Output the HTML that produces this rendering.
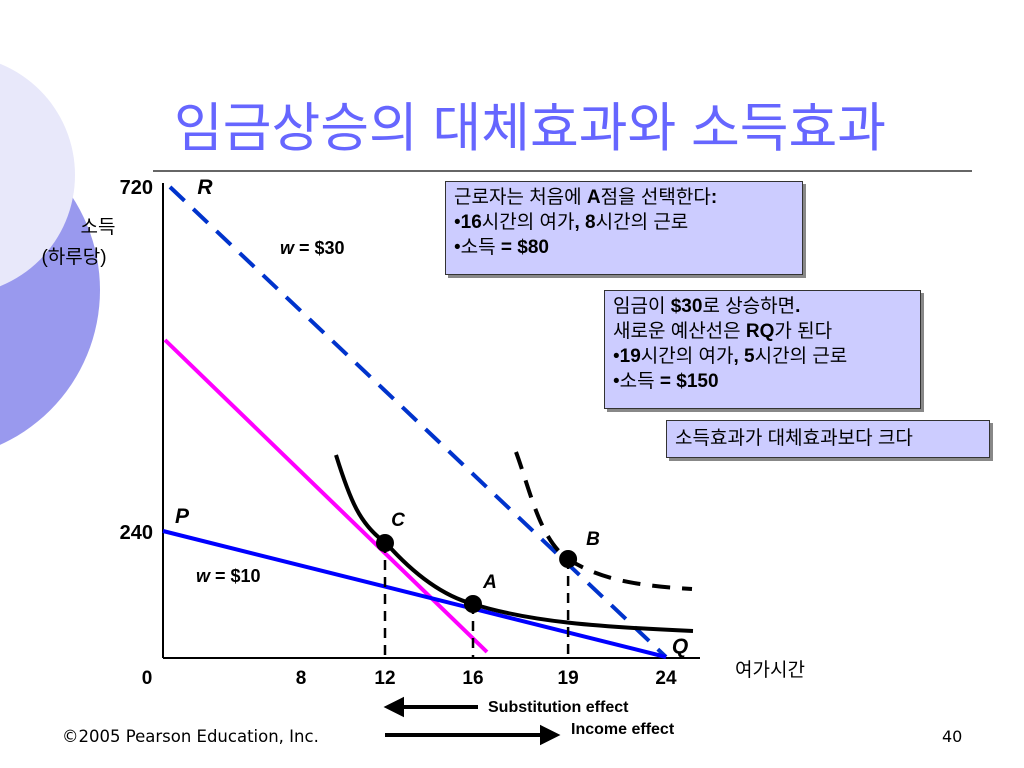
<!DOCTYPE html>
<html><head><meta charset="utf-8">
<style>
body{margin:0;background:#fff;width:1024px;height:768px;overflow:hidden;font-family:"Liberation Sans","Noto Sans CJK KR",sans-serif}
svg{position:absolute;left:0;top:0}
.box{position:absolute;background:#ccccff;border:1.5px solid #333;font-size:19px;line-height:25px;padding:3px 8px;color:#000;box-shadow:3px 3px 0 #888}
</style></head><body>
<svg width="1024" height="768">
<circle cx="-70" cy="290" r="170" fill="#9999ee"/>
<circle cx="-45" cy="175" r="120" fill="#e8e8fa"/>
<text x="530" y="146" font-size="53" fill="#6666ff" text-anchor="middle" font-family="Liberation Sans,Noto Sans CJK KR,sans-serif">임금상승의 대체효과와 소득효과</text>
<line x1="153" y1="171" x2="972" y2="171" stroke="#333" stroke-width="1.5"/>
<g id="plot"></g>
</svg>
<div class="box" style="left:445px;top:181px;width:340px;height:86px">근로자는 처음에 <b>A</b>점을 선택한다<b>:</b><br>•<b>16</b>시간의 여가<b>, 8</b>시간의 근로<br>•소득 <b>= $80</b></div>
<div class="box" style="left:604px;top:290px;width:299px;height:111px">임금이 <b>$30</b>로 상승하면<b>.</b><br>새로운 예산선은 <b>RQ</b>가 된다<br>•<b>19</b>시간의 여가<b>, 5</b>시간의 근로<br>•소득 <b>= $150</b></div>
<div class="box" style="left:666px;top:420px;width:306px;height:30px;line-height:30px">소득효과가 대체효과보다 크다</div>
<script>
const hours=[0,8,12,16,19,24];
const incomeTicks=[0,240,720];
const pointNames=['C','A','B'];
const pointHours=[12,16,19];
const pointIncome=[140,80,150];
const NS='http://www.w3.org/2000/svg';
const g=document.getElementById('plot');
function xs(h){return h<=8?163+h*17.25:(h<=12?301+(h-8)*21:(h<=16?385+(h-12)*22:(h<=19?473+(h-16)*31.7:568+(h-19)*19.6)));}
function ys(v){return v<=240?658-v*0.529:531-(v-240)*0.719;}
function el(t,a,txt){const e=document.createElementNS(NS,t);for(const k in a)e.setAttribute(k,a[k]);if(txt!==undefined)e.textContent=txt;g.appendChild(e);return e;}
let e;
e=el('line',{x1:163,y1:183,x2:163,y2:658,stroke:'#000','stroke-width':2});


e=el('line',{x1:163,y1:658,x2:700,y2:658,stroke:'#000','stroke-width':2});


hours.forEach(h=>{e=el('text',{x:h===0?147:xs(h),y:684,'font-size':19,'font-weight':'bold','text-anchor':'middle'},h);

});
incomeTicks.slice(1).forEach(v=>{e=el('text',{x:153,y:ys(v)+8,'font-size':20,'font-weight':'bold','text-anchor':'end'},v);

});
e=el('text',{x:98,y:233,'font-size':19,'text-anchor':'middle'},'소득');


e=el('text',{x:74,y:263,'font-size':19,'text-anchor':'middle'},'(하루당)');


e=el('text',{x:735,y:676,'font-size':19},'여가시간');


e=el('line',{x1:170,y1:187,x2:666,y2:657,stroke:'#0033cc','stroke-width':4,'stroke-dasharray':'20 12'});


e=el('line',{x1:165,y1:340,x2:487,y2:652,stroke:'#ff00ff','stroke-width':4});


e=el('line',{x1:163,y1:531,x2:666,y2:657,stroke:'#0000ff','stroke-width':4});


e=el('path',{d:'M336,455 C350,500 360,525 386,543 C410,570 440,595 473,604 C530,622 600,627 693,631',fill:'none',stroke:'#000','stroke-width':4});


e=el('path',{d:'M516,452 C530,490 540,540 568,559 C600,580 640,586 692,589',fill:'none',stroke:'#000','stroke-width':4,'stroke-dasharray':'18 12'});


const py=[543,604,559];
const lab=[[398,526],[490,588],[593,545]];
pointNames.forEach((n,i)=>{const x=xs(pointHours[i]);
e=el('line',{x1:x,y1:py[i],x2:x,y2:658,stroke:'#000','stroke-width':2.5,'stroke-dasharray':'10 7'});


e=el('circle',{cx:x,cy:py[i],r:9,fill:'#000'});


e=el('text',{x:lab[i][0],y:lab[i][1],'font-size':19,'font-weight':'bold','font-style':'italic','text-anchor':'middle'},n);

});
[['R',205,194],['P',182,523],['Q',680,653]].forEach(a=>{e=el('text',{x:a[1],y:a[2],'font-size':21,'font-weight':'bold','font-style':'italic','text-anchor':'middle'},a[0]);

});
e=el('text',{x:280,y:254,'font-size':18,'font-weight':'bold'},'');
e.innerHTML='<tspan font-style="italic">w</tspan> = $30';


e=el('text',{x:196,y:582,'font-size':18,'font-weight':'bold'},'');
e.innerHTML='<tspan font-style="italic">w</tspan> = $10';


e=el('path',{d:'M478,707 L402,707 M402,700 L388,707 L402,714 Z',stroke:'#000','stroke-width':4,fill:'#000'});


e=el('text',{x:488,y:712,'font-size':16,'font-weight':'bold'},'Substitution effect');


e=el('path',{d:'M385,735 L542,735 M542,728 L556,735 L542,742 Z',stroke:'#000','stroke-width':4,fill:'#000'});


e=el('text',{x:571,y:734,'font-size':16,'font-weight':'bold'},'Income effect');


e=el('text',{x:62,y:742,'font-size':16.5,'font-family':'DejaVu Sans,sans-serif'},'©2005 Pearson Education, Inc.');


e=el('text',{x:942,y:742,'font-size':16,'font-family':'DejaVu Sans,sans-serif'},'40');


</script>
</body></html>
